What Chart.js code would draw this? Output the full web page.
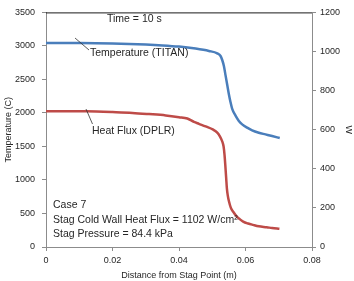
<!DOCTYPE html>
<html>
<head>
<meta charset="utf-8">
<script src="https://cdn.jsdelivr.net/npm/chart.js@4/dist/chart.umd.min.js"></script>
<style>
  html, body { margin: 0; padding: 0; background: #fff; }
  #wrap { width: 354px; height: 281px; }
</style>
</head>
<body>
<div id="wrap"><canvas id="c" width="354" height="281"></canvas></div>
<script>
// temperature (TITAN), left axis
const tempDist = [0, 0.01, 0.02, 0.03, 0.035, 0.04, 0.045, 0.049, 0.0515, 0.0525, 0.053, 0.0535, 0.054, 0.0545, 0.055, 0.0555, 0.056, 0.057, 0.058, 0.059, 0.0605, 0.062, 0.064, 0.066, 0.068, 0.0703];
const tempVals = [3045, 3042, 3035, 3020, 3008, 2990, 2960, 2925, 2890, 2850, 2790, 2700, 2560, 2420, 2280, 2160, 2060, 1960, 1880, 1830, 1780, 1740, 1705, 1680, 1655, 1625];

// heat flux (DPLR), right axis
const fluxDist = [0, 0.005, 0.012, 0.02, 0.026, 0.031, 0.036, 0.04, 0.0425, 0.0445, 0.046, 0.048, 0.0503, 0.0515, 0.0523, 0.053, 0.0534, 0.0537, 0.054, 0.0542, 0.0544, 0.0547, 0.055, 0.0556, 0.0563, 0.0574, 0.0583, 0.0593, 0.0608, 0.0623, 0.064, 0.0664, 0.068, 0.0702];
const fluxVals = [695, 695, 694, 690, 686, 680, 673, 664, 657, 640, 630, 617, 600, 585, 566, 540, 515, 470, 400, 350, 300, 260, 235, 200, 180, 155, 142, 130, 120, 113, 106, 101, 97, 93];

const xTicks = [0, 0.02, 0.04, 0.06, 0.08];
const leftTicks = [0, 500, 1000, 1500, 2000, 2500, 3000, 3500];
const rightTicks = [0, 200, 400, 600, 800, 1000, 1200];

const notes = [
  { text: "Time = 10 s", x: 107, y: 19 },
  { text: "Temperature (TITAN)", x: 90, y: 53 },
  { text: "Heat Flux (DPLR)", x: 92, y: 131 },
  { text: "Case 7", x: 53, y: 205 },
  { text: "Stag Cold Wall Heat Flux = 1102 W/cm\u00b2", x: 53, y: 220 },
  { text: "Stag Pressure = 84.4 kPa", x: 53, y: 234 }
];

const FONT = "'Liberation Sans', Arial, sans-serif";
const txt = "#262626";
const axisGray = "#8c8c8c";

const notesPlugin = {
  id: "notes",
  afterDraw(chart) {
    const ctx = chart.ctx;
    const a = chart.chartArea;
    ctx.save();
    // dark top border of plot area
    ctx.strokeStyle = "#1a1a1a";
    ctx.lineWidth = 1;
    ctx.beginPath();
    ctx.moveTo(a.left, a.top + 0.5);
    ctx.lineTo(a.right, a.top + 0.5);
    ctx.stroke();
    // leader lines
    ctx.strokeStyle = "#333";
    ctx.lineWidth = 0.8;
    ctx.beginPath();
    ctx.moveTo(75, 38); ctx.lineTo(89, 50);
    ctx.moveTo(86, 109); ctx.lineTo(92.5, 124);
    ctx.stroke();
    ctx.fillStyle = txt;
    ctx.font = "10.5px " + FONT;
    ctx.textBaseline = "middle";
    ctx.textAlign = "left";
    notes.forEach(n => ctx.fillText(n.text, n.x, n.y));
    ctx.restore();
  }
};

new Chart(document.getElementById("c"), {
  type: "line",
  data: {
    datasets: [{
      label: "Temperature (TITAN)",
      data: tempDist.map((d, i) => ({ x: d, y: tempVals[i] })),
      borderColor: "#4a7ebb",
      borderWidth: 2.5,
      pointRadius: 0,
      cubicInterpolationMode: "monotone",
      yAxisID: "y"
    }, {
      label: "Heat Flux (DPLR)",
      data: fluxDist.map((d, i) => ({ x: d, y: fluxVals[i] })),
      borderColor: "#be4b48",
      borderWidth: 2.5,
      pointRadius: 0,
      cubicInterpolationMode: "monotone",
      yAxisID: "y2"
    }]
  },
  options: {
    responsive: false,
    animation: false,
    layout: { padding: { top: 5, left: 0, right: 0, bottom: 0 } },
    plugins: { legend: { display: false }, tooltip: { enabled: false } },
    scales: {
      x: {
        type: "linear", min: 0, max: 0.08,
        afterBuildTicks: s => { s.ticks = xTicks.map(v => ({ value: v })); },
        afterFit: s => { s.height = 34; },
        grid: { drawOnChartArea: false, drawTicks: true, tickLength: 4, color: axisGray },
        border: { color: axisGray },
        ticks: { color: txt, font: { family: FONT, size: 9 }, padding: 4, maxRotation: 0,
          callback: v => String(v) },
        title: { display: true, text: "Distance from Stag Point (m)", color: txt,
          font: { family: FONT, size: 9 }, padding: { top: 0, bottom: 0 } }
      },
      y: {
        position: "left", min: 0, max: 3500,
        afterBuildTicks: s => { s.ticks = leftTicks.map(v => ({ value: v })); },
        afterFit: s => { s.width = 46; },
        grid: { drawOnChartArea: false, drawTicks: true, tickLength: 4, color: axisGray },
        border: { color: axisGray },
        ticks: { color: txt, font: { family: FONT, size: 9 }, padding: 7, callback: v => String(v) },
        title: { display: true, text: "Temperature (C)", color: txt,
          font: { family: FONT, size: 9 }, padding: { top: 3, bottom: 0 } }
      },
      y2: {
        position: "right", min: 0, max: 1200,
        afterBuildTicks: s => { s.ticks = rightTicks.map(v => ({ value: v })); },
        afterFit: s => { s.width = 42; },
        grid: { drawOnChartArea: false, drawTicks: true, tickLength: 4, color: axisGray },
        border: { color: axisGray },
        ticks: { color: txt, font: { family: FONT, size: 9 }, padding: 4, callback: v => String(v) },
        title: { display: true, text: "W", color: txt,
          font: { family: FONT, size: 9 }, padding: { top: 0, bottom: 0 } }
      }
    }
  },
  plugins: [notesPlugin]
});
</script>
</body>
</html>
